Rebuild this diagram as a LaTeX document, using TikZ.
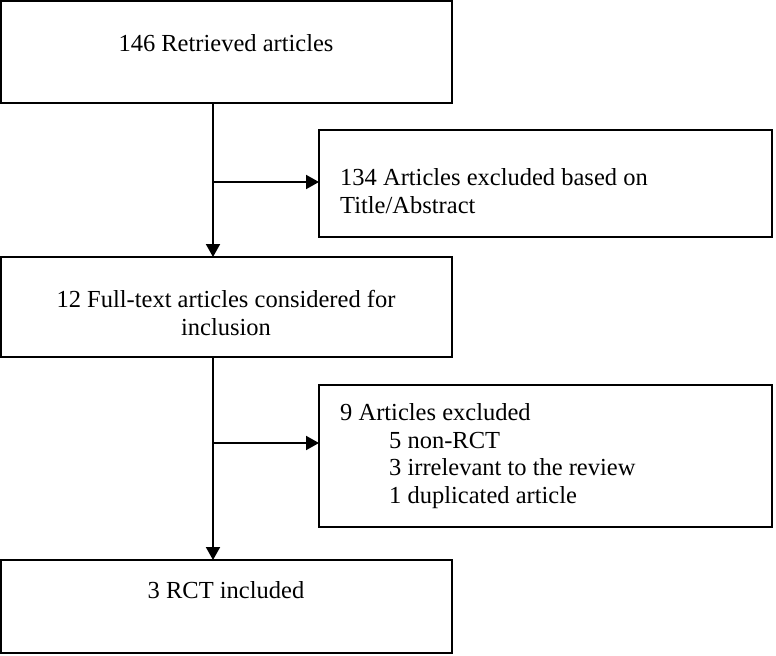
\documentclass[tikz,border=0pt]{standalone}
\usepackage{fontspec}
\setmainfont{Liberation Serif}
\usetikzlibrary{arrows.meta}
\begin{document}
\begin{tikzpicture}[x=1bp,y=-1bp,
  box/.style={draw, line width=2bp, anchor=north west, inner sep=0pt, outer sep=0pt},
  lbl/.style={font=\fontsize{24.5bp}{28bp}\selectfont, inner sep=0pt},
  arr/.style={line width=2bp, -{Triangle[length=13bp,width=14bp]}}]
\useasboundingbox (0,0) rectangle (776,656);
\node[box, minimum width=451bp, minimum height=102bp] (b1) at (1,1) {};
\node[box, minimum width=453bp, minimum height=107bp] (b2) at (319,130) {};
\node[box, minimum width=451bp, minimum height=100bp] (b3) at (1,257) {};
\node[box, minimum width=453bp, minimum height=142bp] (b4) at (319,385) {};
\node[box, minimum width=451bp, minimum height=93bp] (b5) at (1,560) {};
\node[lbl] (t1) at (226,43) {146 Retrieved articles};
\node[lbl, align=left, anchor=west] (t2) at (340,191) {134 Articles excluded based on\\Title/Abstract};
\node[lbl, align=center] (t3) at (226,313) {12 Full-text articles considered for\\inclusion};
\node[lbl, anchor=base west] (t4a) at (340,420) {9 Articles excluded};
\node[lbl, anchor=base west] (t4b) at (389,448) {5 non-RCT};
\node[lbl, anchor=base west] (t4c) at (389,475) {3 irrelevant to the review};
\node[lbl, anchor=base west] (t4d) at (389,503) {1 duplicated article};
\node[lbl] (t5) at (226,590) {3 RCT included};
\coordinate (s1) at (213,182);
\coordinate (s2) at (213,443);
\draw[arr] (b1.south -| s1) -- (b3.north -| s1);
\draw[arr] (s1) -- (s1 -| b2.west);
\draw[arr] (b3.south -| s1) -- (b5.north -| s1);
\draw[arr] (s2) -- (s2 -| b4.west);
\end{tikzpicture}
\end{document}
